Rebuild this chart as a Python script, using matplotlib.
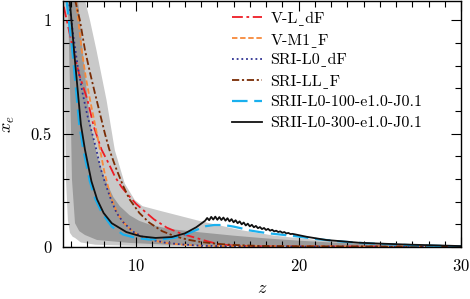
import matplotlib
matplotlib.use("Agg")
import matplotlib.pyplot as plt

# cmr10 has no real underscore, missing glyphs fall back to DejaVu
plt.rcParams['font.family'] = ['cmr10', 'DejaVu Serif', 'DejaVu Sans']
plt.rcParams['mathtext.fontset'] = 'cm'
plt.rcParams['axes.formatter.use_mathtext'] = True

US = '\u02cd'

# shaded ranges
z_light_lo = [5.55, 5.68, 5.8, 5.93, 6.1, 6.24, 6.6, 7.5, 10, 20, 28.5]
x_light_lo = [1.09, 0.3, 0.12, 0.062, 0.045, 0.04, 0.02, 0.01, 0.005, 0.002, 0.0]
z_light_hi = [6.85, 7.16, 7.56, 8.18, 8.69, 9.3, 9.92, 10.4, 11.45, 13.9, 16.4, 18.5, 21, 24, 26.5, 28.3]
x_light_hi = [1.09, 1.0, 0.868, 0.648, 0.427, 0.28, 0.207, 0.18, 0.16, 0.115, 0.075, 0.05, 0.032, 0.017, 0.008, 0.002]

z_dark_lo = [5.8, 6.0, 6.05, 6.24, 6.5, 6.85, 7.59, 9.6, 12, 16, 20, 26]
x_dark_lo = [1.09, 0.5, 0.3, 0.105, 0.07, 0.053, 0.031, 0.018, 0.01, 0.006, 0.004, 0.002]
z_dark_hi = [6.42, 6.8, 7.16, 7.6, 8.08, 8.6, 9.0, 9.6, 10.2, 10.8, 12, 13.9, 16, 18, 20, 22, 24, 26, 27.5]
x_dark_hi = [1.09, 0.8, 0.55, 0.4, 0.3, 0.22, 0.18, 0.14, 0.115, 0.1, 0.08, 0.065, 0.05, 0.038, 0.028, 0.02, 0.013, 0.007, 0.002]

# models
z_vl = [5.55, 5.73, 6.13, 6.5, 7.0, 7.4, 7.87, 8.3, 8.7, 9.1, 9.5, 10.0, 10.4, 11.1, 11.9, 12.8, 13.6, 14.4, 15.1, 16, 18, 30]
x_vl = [1.06, 1.0, 0.87, 0.76, 0.65, 0.53, 0.43, 0.37, 0.31, 0.265, 0.23, 0.19, 0.165, 0.122, 0.085, 0.058, 0.042, 0.025, 0.012, 0.006, 0.003, 0.001]

z_vm = [6.3, 6.65, 6.9, 7.16, 7.5, 7.75, 8.05, 8.4, 8.8, 9.2, 9.8, 10.4, 11.0, 11.8, 12.7, 13.9, 16, 30]
x_vm = [1.09, 0.87, 0.75, 0.65, 0.53, 0.44, 0.33, 0.23, 0.155, 0.11, 0.068, 0.044, 0.03, 0.018, 0.011, 0.006, 0.003, 0.001]

z_sl0 = [5.85, 6.1, 6.4, 6.7, 7.0, 7.3, 7.55, 7.8, 8.1, 8.45, 8.8, 9.2, 9.8, 10.4, 11.0, 11.8, 12.7, 13.9, 16, 20, 30]
x_sl0 = [1.09, 0.95, 0.8, 0.68, 0.58, 0.5, 0.43, 0.35, 0.28, 0.21, 0.15, 0.11, 0.068, 0.045, 0.031, 0.019, 0.012, 0.006, 0.003, 0.002, 0.001]

z_sll = [6.24, 6.54, 6.85, 7.16, 7.46, 7.77, 8.08, 8.35, 8.75, 9.2, 9.6, 10.2, 10.8, 11.6, 12.4, 13.2, 14.0, 15.0, 16.0, 17.5, 20, 30]
x_sll = [1.09, 1.0, 0.87, 0.77, 0.68, 0.59, 0.5, 0.43, 0.35, 0.27, 0.21, 0.15, 0.108, 0.07, 0.047, 0.032, 0.022, 0.014, 0.009, 0.005, 0.003, 0.001]

z_s100 = [5.7, 6.1, 6.5, 6.75, 7.15, 7.5, 7.9, 8.5, 9.2, 10.0, 10.8, 11.6, 12.3, 12.9, 13.7, 14.3, 14.8, 15.4, 16.0, 16.5, 17.0, 17.6, 18.2, 19.0, 20.0, 21.0, 22.5, 24, 25.5, 27, 28.6, 30]
x_s100 = [1.1, 0.85, 0.54, 0.43, 0.29, 0.21, 0.15, 0.09, 0.055, 0.04, 0.033, 0.034, 0.04, 0.05, 0.075, 0.092, 0.097, 0.097, 0.09, 0.082, 0.073, 0.066, 0.06, 0.054, 0.046, 0.036, 0.025, 0.017, 0.012, 0.008, 0.005, 0.003]

z_s300 = [5.9, 6.2, 6.6, 6.85, 7.25, 7.6, 8.0, 8.5, 9.4, 10.3, 11.2, 12.2, 13.0, 13.7, 14.1, 14.25,
          14.375, 14.5, 14.625, 14.75, 14.875, 15.0, 15.125, 15.25, 15.375, 15.5, 15.625, 15.75,
          15.875, 16.0, 16.125, 16.25, 16.375, 16.5, 16.625, 16.75, 16.875, 17.0, 17.125, 17.25,
          17.375, 17.5, 17.625, 17.75, 17.875, 18.0, 18.125, 18.25, 18.375, 18.5, 18.625, 18.75,
          18.875, 19.0, 19.125, 19.25, 19.375, 19.5, 19.625,
          20.5, 21.7, 23.7, 25, 27, 28.6, 30]
x_s300 = [1.1, 0.85, 0.54, 0.43, 0.29, 0.21, 0.15, 0.105, 0.066, 0.047, 0.04, 0.044, 0.06, 0.087, 0.108, 0.116,
          0.128, 0.118, 0.133, 0.121, 0.134, 0.120, 0.132, 0.119, 0.130, 0.116, 0.127, 0.113,
          0.123, 0.109, 0.118, 0.105, 0.113, 0.100, 0.108, 0.095, 0.103, 0.091, 0.098, 0.087,
          0.093, 0.083, 0.088, 0.079, 0.084, 0.075, 0.080, 0.072, 0.076, 0.069, 0.072, 0.066,
          0.069, 0.063, 0.066, 0.060, 0.062, 0.057, 0.058,
          0.045, 0.031, 0.019, 0.015, 0.01, 0.007, 0.004]

fig = plt.figure(figsize=(4.7, 2.99), dpi=100)
ax = fig.add_axes([63/470, 52/299, 398/470, 246/299])

ax.fill(z_light_lo + z_light_hi[::-1], x_light_lo + x_light_hi[::-1], color='#c9c9c9', lw=0)
ax.fill(z_dark_lo + z_dark_hi[::-1], x_dark_lo + x_dark_hi[::-1], color='#9a9a9a', lw=0)

lw = 1.3
ax.plot(z_vl, x_vl, color='#ee1c25', lw=lw, dashes=(6, 2, 1.5, 2), label='V-L' + US + 'dF')
ax.plot(z_vm, x_vm, color='#f7893a', lw=lw, dashes=(3, 1.5), label='V-M1' + US + 'F')
ax.plot(z_sl0, x_sl0, color='#2e3192', lw=lw, dashes=(1, 1.6), label='SRI-L0' + US + 'dF')
ax.plot(z_sll, x_sll, color='#7a2c04', lw=lw, dashes=(4, 1.5, 1.2, 1.5), label='SRI-LL' + US + 'F')
ax.plot(z_s100, x_s100, color='#1ab0ee', lw=lw + 0.3, dashes=(7, 3), label='SRII-L0-100-e1.0-J0.1')
ax.plot(z_s300, x_s300, color='#111111', lw=lw, label='SRII-L0-300-e1.0-J0.1')

ax.set_xlim(5.5, 30)
ax.set_ylim(0, 1.085)
ax.set_xticks([10, 20, 30])
ax.set_xticks(range(6, 30), minor=True)
ax.set_yticks([0, 0.5, 1])
ax.set_yticklabels(['0', '0.5', '1'])
ax.set_yticks([i / 10 for i in range(1, 11)], minor=True)
ax.tick_params(which='both', direction='in', top=True, right=True, labelsize=12, width=0.8)
ax.tick_params(which='major', length=7, pad=8)
ax.tick_params(which='minor', length=4)
for s in ax.spines.values():
    s.set_linewidth(1.0)

ax.set_xlabel('$z$', fontsize=13, labelpad=5)
ax.set_ylabel('$x_e$', fontsize=13, labelpad=10)

ax.legend(loc='upper left', bbox_to_anchor=(0.425, 0.957), frameon=False, fontsize=11.5,
          handlelength=1.9, handletextpad=0.5, borderaxespad=0, borderpad=0, labelspacing=0.42)

fig.savefig('out.png', dpi=100)
